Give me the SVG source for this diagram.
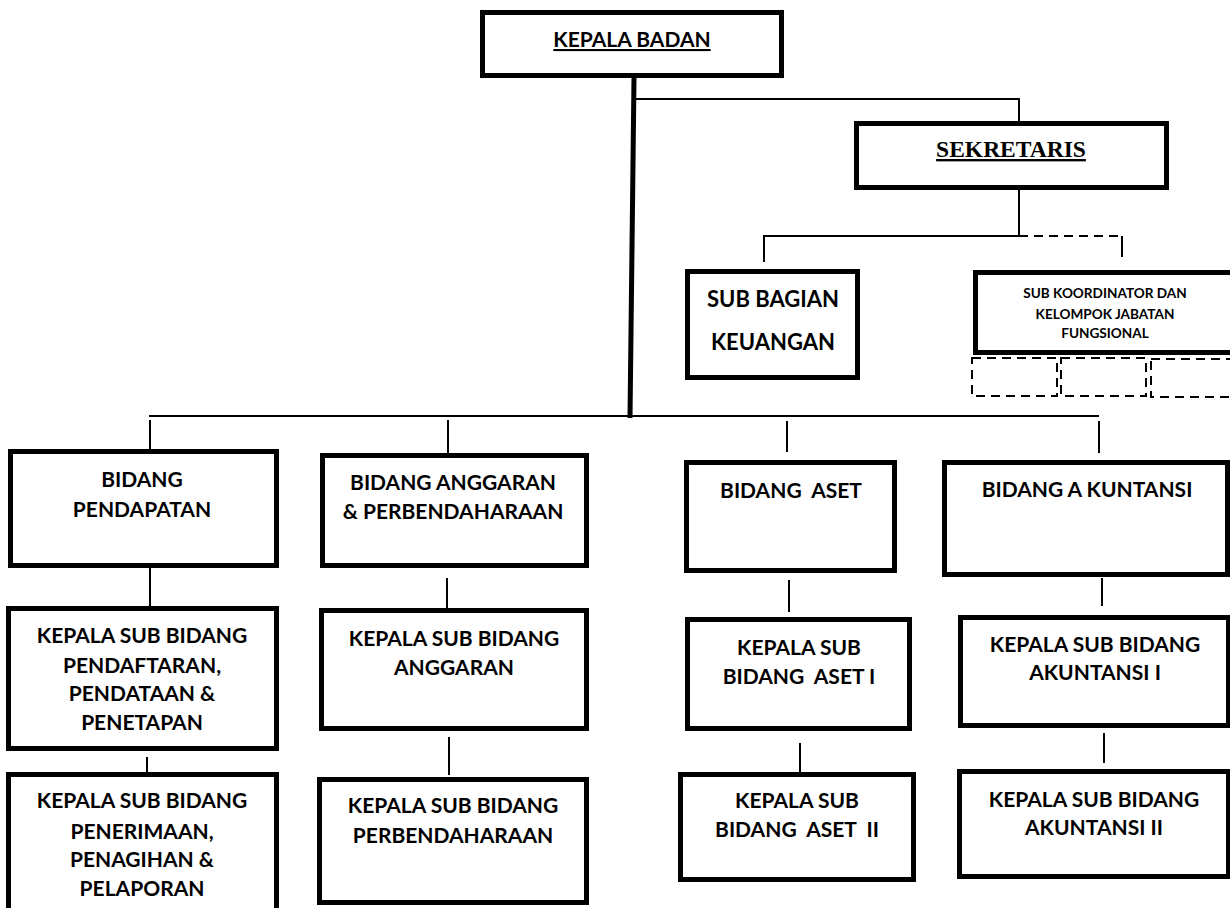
<svg xmlns="http://www.w3.org/2000/svg" width="1230" height="908" viewBox="0 0 1230 908">
<style>
.box{fill:#fff;stroke:#000;stroke-width:5}
.ln{stroke:#000;stroke-width:2;fill:none}
.thick{stroke:#000;stroke-width:5;fill:none}
.dash{stroke:#000;stroke-width:2;fill:none;stroke-dasharray:9 6}
.t{font-family:Lato,"Open Sans","Liberation Sans",sans-serif;font-weight:bold;font-size:21px;text-anchor:middle;fill:#000;white-space:pre}
.s{font-size:13.6px}
.serif{font-family:"Liberation Serif","DejaVu Serif",serif;font-weight:bold;font-size:23.5px;text-anchor:middle;text-decoration:underline}
</style>
<rect width="1230" height="908" fill="#fff"/>
<g id="connectors">
<line class="thick" x1="634" y1="78" x2="630" y2="418"/>
<polyline class="ln" points="636,99 1019,99 1019,122"/>
<line class="ln" x1="1019" y1="190" x2="1019" y2="236"/>
<polyline class="ln" points="764,262 764,236 1019,236"/>
<line class="dash" x1="1019" y1="236" x2="1122" y2="236"/>
<line class="ln" x1="1122" y1="236" x2="1122" y2="257"/>
<line class="ln" x1="149" y1="416" x2="1099" y2="416"/>
<line class="ln" x1="150" y1="420" x2="150" y2="449"/>
<line class="ln" x1="448" y1="420" x2="448" y2="453"/>
<line class="ln" x1="787" y1="421" x2="787" y2="452"/>
<line class="ln" x1="1099" y1="421" x2="1099" y2="453"/>
<line class="ln" x1="150" y1="568" x2="150" y2="606"/>
<line class="ln" x1="447" y1="578" x2="447" y2="608"/>
<line class="ln" x1="789" y1="580" x2="789" y2="612"/>
<line class="ln" x1="1102" y1="578" x2="1102" y2="606"/>
<line class="ln" x1="147" y1="757" x2="147" y2="772"/>
<line class="ln" x1="449" y1="737" x2="449" y2="775"/>
<line class="ln" x1="800" y1="743" x2="800" y2="772"/>
<line class="ln" x1="1104" y1="733" x2="1104" y2="763"/>
<rect class="dash" x="972" y="358" width="85" height="38"/>
<rect class="dash" x="1061" y="358" width="85" height="38"/>
<rect class="dash" x="1151" y="359" width="95" height="38"/>
</g>
<g id="kepala-badan">
<rect class="box" x="482.5" y="12.5" width="299" height="63"/>
<text class="t" x="632" y="47" style="text-decoration:underline">KEPALA BADAN</text>
</g>
<g id="sekretaris">
<rect class="box" x="856.5" y="123.5" width="310" height="64"/>
<text class="serif" x="1011" y="157">SEKRETARIS</text>
</g>
<g id="sub-bagian-keuangan">
<rect class="box" x="687.5" y="271.5" width="170" height="106"/>
<text class="t" x="773" y="307" style="font-size:22px">SUB BAGIAN</text>
<text class="t" x="773" y="350" style="font-size:22px">KEUANGAN</text>
</g>
<g id="sub-koordinator">
<rect class="box" x="975.5" y="272.5" width="270" height="80"/>
<text class="t s" x="1105" y="298">SUB KOORDINATOR DAN</text>
<text class="t s" x="1105" y="319">KELOMPOK JABATAN</text>
<text class="t s" x="1105" y="338">FUNGSIONAL</text>
</g>
<g id="bidang-pendapatan">
<rect class="box" x="10.5" y="451.5" width="266" height="114"/>
<text class="t" x="142" y="487">BIDANG</text>
<text class="t" x="142" y="517">PENDAPATAN</text>
</g>
<g id="bidang-anggaran">
<rect class="box" x="322.5" y="455.5" width="264" height="110"/>
<text class="t" x="453" y="490">BIDANG ANGGARAN</text>
<text class="t" x="453" y="519">&amp; PERBENDAHARAAN</text>
</g>
<g id="bidang-aset">
<rect class="box" x="686.5" y="462.5" width="208" height="108"/>
<text class="t" x="791" y="498">BIDANG  ASET</text>
</g>
<g id="bidang-akuntansi">
<rect class="box" x="944.5" y="462.5" width="283" height="112"/>
<text class="t" x="1087" y="497">BIDANG A KUNTANSI</text>
</g>
<g id="ksb-pendaftaran">
<rect class="box" x="8.5" y="608.5" width="268" height="140"/>
<text class="t" x="142" y="643">KEPALA SUB BIDANG</text>
<text class="t" x="142" y="673">PENDAFTARAN,</text>
<text class="t" x="142" y="701">PENDATAAN &amp;</text>
<text class="t" x="142" y="730">PENETAPAN</text>
</g>
<g id="ksb-penerimaan">
<rect class="box" x="8.5" y="774.5" width="268" height="145"/>
<text class="t" x="142" y="808">KEPALA SUB BIDANG</text>
<text class="t" x="142" y="839">PENERIMAAN,</text>
<text class="t" x="142" y="867">PENAGIHAN &amp;</text>
<text class="t" x="142" y="896">PELAPORAN</text>
</g>
<g id="ksb-anggaran">
<rect class="box" x="321.5" y="610.5" width="265" height="118"/>
<text class="t" x="454" y="646">KEPALA SUB BIDANG</text>
<text class="t" x="454" y="675">ANGGARAN</text>
</g>
<g id="ksb-perbendaharaan">
<rect class="box" x="319.5" y="779.5" width="267" height="123"/>
<text class="t" x="453" y="813">KEPALA SUB BIDANG</text>
<text class="t" x="453" y="843">PERBENDAHARAAN</text>
</g>
<g id="ksb-aset-1">
<rect class="box" x="687.5" y="619.5" width="222" height="109"/>
<text class="t" x="799" y="655">KEPALA SUB</text>
<text class="t" x="799" y="684">BIDANG  ASET I</text>
</g>
<g id="ksb-aset-2">
<rect class="box" x="680.5" y="774.5" width="233" height="105"/>
<text class="t" x="797" y="808">KEPALA SUB</text>
<text class="t" x="797" y="837">BIDANG  ASET  II</text>
</g>
<g id="ksb-akuntansi-1">
<rect class="box" x="960.5" y="617.5" width="268" height="108"/>
<text class="t" x="1095" y="652">KEPALA SUB BIDANG</text>
<text class="t" x="1095" y="680">AKUNTANSI I</text>
</g>
<g id="ksb-akuntansi-2">
<rect class="box" x="959.5" y="771.5" width="269" height="105"/>
<text class="t" x="1094" y="807">KEPALA SUB BIDANG</text>
<text class="t" x="1094" y="835">AKUNTANSI II</text>
</g>
</svg>
